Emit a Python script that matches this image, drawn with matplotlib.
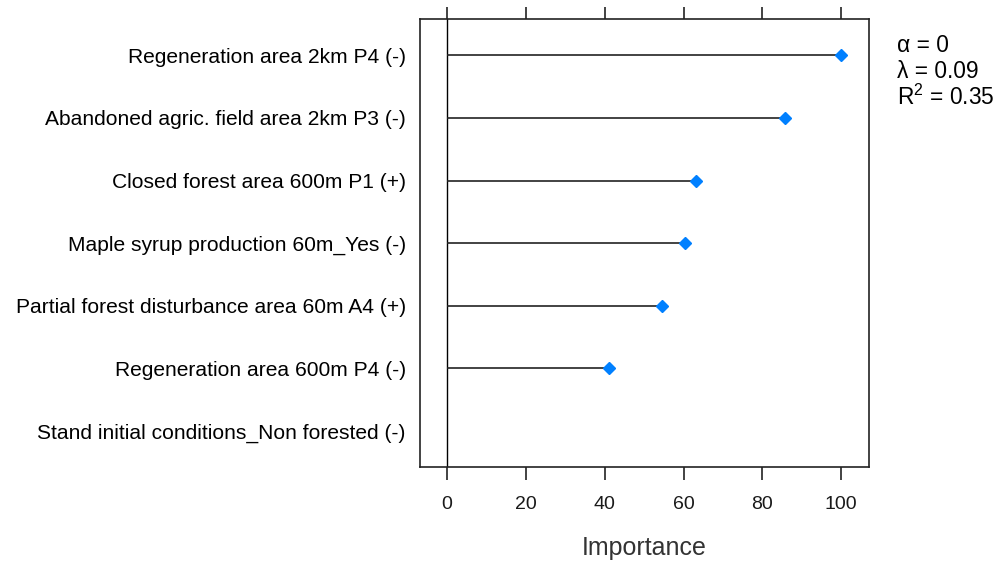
import matplotlib
matplotlib.use("Agg")
import matplotlib.pyplot as plt

plt.rcParams['font.family'] = ['Liberation Sans', 'DejaVu Sans']
plt.rcParams['mathtext.fontset'] = 'custom'
plt.rcParams['mathtext.rm'] = 'Liberation Sans'
plt.rcParams['mathtext.it'] = 'Liberation Sans'
plt.rcParams['mathtext.default'] = 'regular'

# Variable importance, ordered from top to bottom
variables = [
    "Regeneration area 2km P4 (-)",
    "Abandoned agric. field area 2km P3 (-)",
    "Closed forest area 600m P1 (+)",
    "Maple syrup production 60m_Yes (-)",
    "Partial forest disturbance area 60m A4 (+)",
    "Regeneration area 600m P4 (-)",
    "Stand initial conditions_Non forested (-)",
]
importance = [100, 85.8, 63.2, 60.4, 54.6, 41.0, 0]
x_ticks = [0, 20, 40, 60, 80, 100]
model_info = ["α = 0", "λ = 0.09", "R$^{2}$ = 0.35"]

fig = plt.figure(figsize=(10.03, 5.65), dpi=100)
ax = fig.add_axes([0.4183, 0.1740, 0.4478, 0.7924])

n = len(variables)
ypos = [n - i for i in range(n)]

ax.axvline(0, color='black', lw=1.0, zorder=1)
ax.hlines(ypos, 0, importance, color='#222222', lw=1.2, zorder=2)
# zero-importance variables carry no point marker
pts = [(v, y) for v, y in zip(importance, ypos) if v > 0]
ax.plot([p[0] for p in pts], [p[1] for p in pts], linestyle='none',
        marker='D', markersize=6.2, color='#0080FF', zorder=3)

ax.set_xlim(-7, 107)
ax.set_ylim(0.43, n + 0.58)
ax.set_xticks(x_ticks)
ax.set_xticklabels([str(t) for t in x_ticks], fontsize=14)
ax.set_yticks(ypos)
ax.set_yticklabels(variables, fontsize=15.1)
ax.tick_params(axis='x', which='both', top=True, bottom=True, direction='out',
               length=9, width=1.2, color='#222222', pad=12, labelcolor='#1a1a1a')
ax.tick_params(axis='y', length=0, pad=10)
for sp in ax.spines.values():
    sp.set_color('#222222')
    sp.set_linewidth(1.2)

ax.set_xlabel("Importance", fontsize=18, color='#333333', labelpad=17)

for i, txt in enumerate(model_info):
    fig.text(0.894, 1 - (46 + 25.5 * i) / 565, txt, fontsize=16.4,
             ha='left', va='center', color='black')

fig.savefig("out.png", dpi=100, facecolor='white')
